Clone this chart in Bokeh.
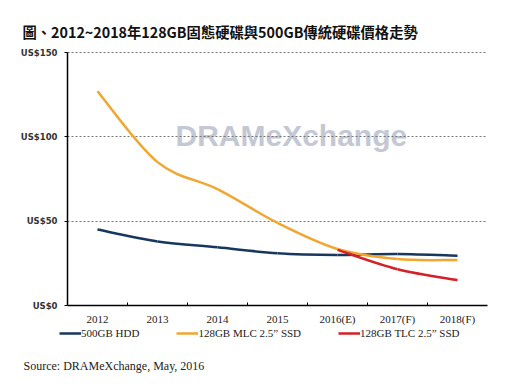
from bokeh.plotting import figure
from bokeh.models import Range1d, FixedTicker, Legend, LegendItem, Label, ColumnDataSource
from bokeh.embed import file_html
from bokeh.resources import INLINE

# ---- data ----
years = ["2012", "2013", "2014", "2015", "2016(E)", "2017(F)", "2018(F)"]
hdd = [45, 38, 34.5, 31, 30, 30.5, 29.5]
mlc = [127, 85, 69, 49, 33.5, 27.5, 27]
tlc = [None, None, None, None, 33, 21.5, 15]
series_names = ["500GB HDD", "128GB MLC 2.5\u201d SSD", "128GB TLC 2.5\u201d SSD"]
y_ticks = [0, 50, 100, 150]
y_tick_labels = ["US$0", "US$50", "US$100", "US$150"]

title_text = "圖、2012~2018年128GB固態硬碟與500GB傳統硬碟價格走勢"
source_text = "Source: DRAMeXchange, May, 2016"

colors = ["#17375e", "#f0a630", "#d42027"]

# ---- layout (pixels) ----
W, H = 526, 389
PL, PR, PT, PB = 67, 487, 52, 305          # plot area edges on the canvas
n = len(years)
ymax = y_ticks[-1]
xu = (PR - PL) / n                          # px per category
yu = (PB - PT) / ymax                       # px per dollar

p = figure(width=W, height=H, output_backend="svg", toolbar_location=None,
           x_range=Range1d(-PL / xu, n + (W - PR) / xu),
           y_range=Range1d(-(H - PB) / yu, ymax + PT / yu),
           min_border=0)
p.outline_line_color = None
p.background_fill_color = "white"
p.title.visible = False

# x axis: labels centred on categories, tick marks between categories
p.xaxis.fixed_location = 0
p.xaxis.bounds = (0, n)
p.xaxis.ticker = FixedTicker(ticks=[i + 0.5 for i in range(n)],
                             minor_ticks=[i for i in range(1, n)])
p.xaxis.major_label_overrides = {i + 0.5: y for i, y in enumerate(years)}
p.xaxis.major_tick_line_color = None
p.xaxis.minor_tick_line_color = "black"
p.xaxis.minor_tick_in = 3
p.xaxis.minor_tick_out = 0
p.xaxis.axis_line_color = "black"
p.xaxis.axis_line_width = 1.5
p.xaxis.major_label_standoff = 1
p.xaxis.major_label_text_font = "Liberation Serif"
p.xaxis.major_label_text_font_size = "11px"
p.xaxis.major_label_text_color = "#222222"

p.yaxis.fixed_location = 0
p.yaxis.bounds = (0, ymax)
p.yaxis.ticker = FixedTicker(ticks=y_ticks)
p.yaxis.major_label_overrides = {t: l for t, l in zip(y_ticks, y_tick_labels)}
p.yaxis.major_tick_line_color = "black"
p.yaxis.major_tick_in = 0
p.yaxis.major_tick_out = 3
p.yaxis.minor_tick_line_color = None
p.yaxis.axis_line_color = "black"
p.yaxis.axis_line_width = 1.5
p.yaxis.major_label_standoff = 7
p.yaxis.major_label_text_font = "DejaVu Sans"
p.yaxis.major_label_text_font_style = "bold"
p.yaxis.major_label_text_font_size = "8.5px"
p.yaxis.major_label_text_color = "#333333"

p.xgrid.visible = False
p.ygrid.ticker = FixedTicker(ticks=y_ticks[1:])
p.ygrid.cross_bounds = (0, n)
p.ygrid.grid_line_color = "#777777"
p.ygrid.grid_line_dash = "2 2"
p.ygrid.grid_line_width = 1

# watermark logo text
p.add_layout(Label(x=175, y=H - 135, x_units="screen", y_units="screen", text="DRAMeXchange",
                   text_font="Liberation Sans", text_font_style="bold", text_font_size="30px",
                   text_color="#c3c8d4", text_baseline="middle", level="image"))


def smooth_segments(vals):
    pts = [(i + 0.5, v) for i, v in enumerate(vals) if v is not None]
    m = len(pts)
    d = dict(x0=[], y0=[], x1=[], y1=[], cx0=[], cy0=[], cx1=[], cy1=[])
    for k in range(m - 1):
        a = pts[max(k - 1, 0)]
        b = pts[k]
        c = pts[k + 1]
        e = pts[min(k + 2, m - 1)]
        d["x0"].append(b[0]); d["y0"].append(b[1])
        d["x1"].append(c[0]); d["y1"].append(c[1])
        d["cx0"].append(b[0] + (c[0] - a[0]) / 6); d["cy0"].append(b[1] + (c[1] - a[1]) / 6)
        d["cx1"].append(c[0] - (e[0] - b[0]) / 6); d["cy1"].append(c[1] - (e[1] - b[1]) / 6)
    return ColumnDataSource(d)


items = []
for vals, name, col in zip([hdd, mlc, tlc], series_names, colors):
    r = p.bezier(x0="x0", y0="y0", x1="x1", y1="y1", cx0="cx0", cy0="cy0", cx1="cx1", cy1="cy1",
                 source=smooth_segments(vals), line_color=col, line_width=2.5)
    items.append(LegendItem(label=name, renderers=[r]))

legend = Legend(items=items, orientation="horizontal", location=(59, H - 339), spacing=37,
                label_standoff=0, glyph_width=22, glyph_height=12, padding=0, margin=0,
                border_line_color=None, background_fill_alpha=0,
                label_text_font="Liberation Serif", label_text_font_size="11px",
                label_text_color="#222222")
p.add_layout(legend)

p.add_layout(Label(x=22, y=H - 31, x_units="screen", y_units="screen", text=title_text,
                   text_font="Noto Sans CJK TC", text_font_style="bold", text_font_size="14.3px",
                   text_color="#111111", text_baseline="middle"))
p.add_layout(Label(x=23, y=H - 365, x_units="screen", y_units="screen", text=source_text,
                   text_font="Liberation Serif", text_font_size="12px",
                   text_color="#222222", text_baseline="middle"))

open("out.html", "w").write(file_html(p, INLINE))
